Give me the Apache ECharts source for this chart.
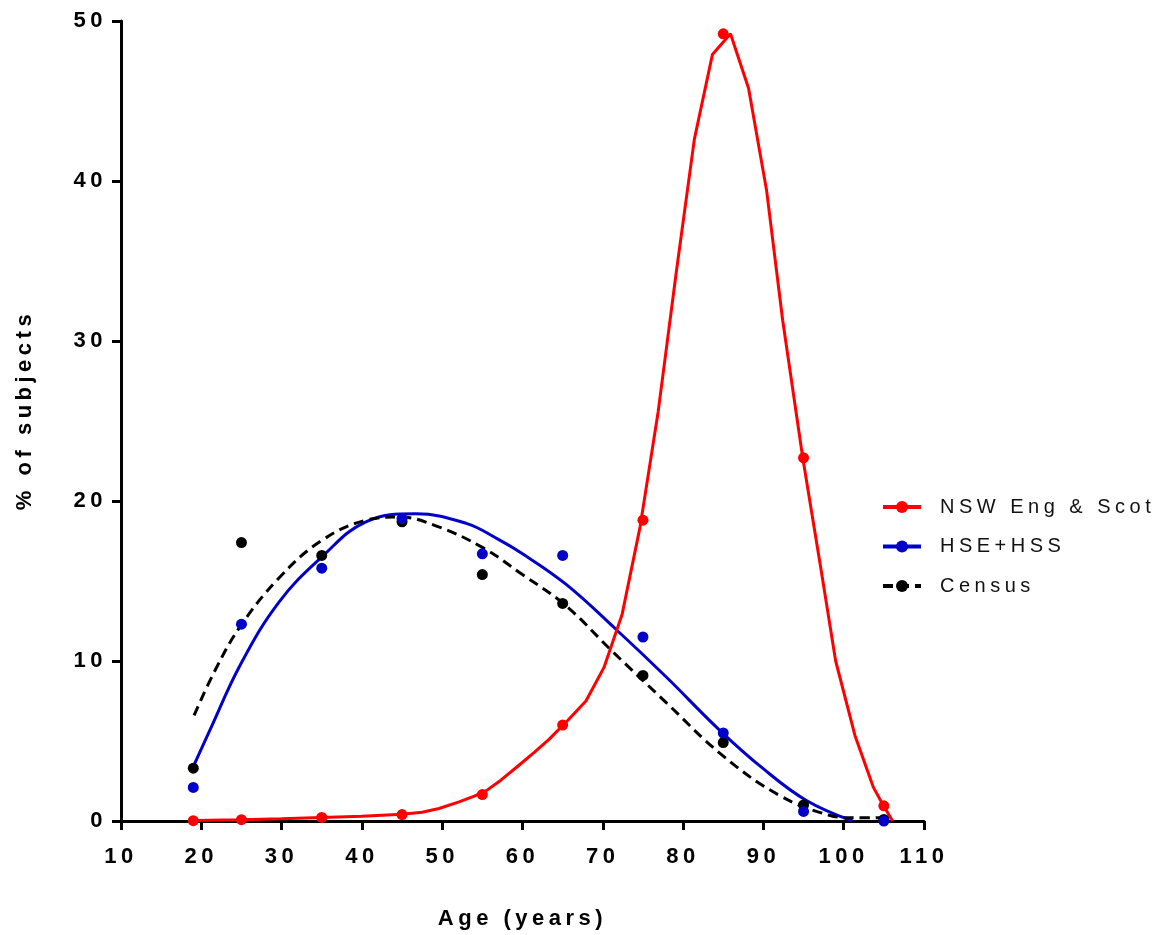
<!DOCTYPE html>
<html>
<head>
<meta charset="utf-8">
<script src="https://cdn.jsdelivr.net/npm/echarts@6/dist/echarts.min.js"></script>
<style>
  html, body { margin: 0; padding: 0; background: #fff; }
  #main { width: 1162px; height: 935px; }
</style>
</head>
<body>
<div id="main"></div>
<script>
// measured points
var ages = [19, 25, 35, 45, 55, 65, 75, 85, 95, 105];
var nswPts = [0.02, 0.08, 0.22, 0.4, 1.65, 6.0, 18.8, 49.2, 22.7, 0.95];
var hsePts = [2.1, 12.3, 15.8, 18.9, 16.7, 16.6, 11.5, 5.5, 0.6, 0.0];
var censusPts = [3.3, 17.4, 16.6, 18.7, 15.4, 13.6, 9.1, 4.9, 1.0, 0.1];

// fitted curves
var nswCurveX = [19, 25, 30, 35, 40, 45, 47.5, 49.6, 52.1, 54, 55.5, 57.3, 59.6, 61.5, 63.3, 65.65, 67.9, 70.15, 72.4, 74.65, 76.9, 79.15, 81.4, 83.65, 85.9, 88.15, 90.4, 92.4, 94.9, 97.15, 99.0, 101.4, 103.7, 104.9, 106.1];
var nswCurveY = [0.03, 0.08, 0.14, 0.22, 0.3, 0.42, 0.55, 0.78, 1.2, 1.55, 1.9, 2.55, 3.5, 4.3, 5.1, 6.3, 7.5, 9.6, 12.9, 18.4, 25.6, 34.3, 42.6, 47.9, 49.2, 45.8, 39.4, 31.3, 22.7, 15.8, 10.0, 5.35, 2.1, 1.0, 0.0];

var hseCurveX = [19, 21, 24.9, 29.7, 35, 40.5, 46.7, 53, 57, 60, 65.4, 71.6, 77.9, 84.5, 89.9, 95.3, 101.1];
var hseCurveY = [3.4, 5.6, 9.8, 13.7, 16.5, 18.7, 19.2, 18.6, 17.6, 16.7, 14.8, 12.0, 9.0, 5.7, 3.3, 1.3, 0.0];

var censusCurveX = [19.1, 21.8, 24.9, 29.7, 34.9, 40.5, 44.6, 49.2, 55, 60, 65.3, 71.2, 77.9, 84.9, 92, 98.2, 101.1, 105.3];
var censusCurveY = [6.6, 9.5, 12.2, 15.2, 17.5, 18.8, 19.0, 18.45, 17.1, 15.4, 13.5, 10.6, 7.4, 4.1, 1.6, 0.36, 0.2, 0.2];

var xTicks = [10, 20, 30, 40, 50, 60, 70, 80, 90, 100, 110];
var yTicks = [0, 10, 20, 30, 40, 50];

function pairs(xs, ys) {
    return xs.map(function (x, i) { return [x, ys[i]]; });
}

var FONT = '"Liberation Sans", Arial, sans-serif';
var RED = '#ff0000', BLUE = '#0000c8', BLACK = '#000000';

var chart = echarts.init(document.getElementById('main'), null, {renderer: 'canvas'});

var axisLine = {show: true, onZero: false, lineStyle: {color: BLACK, width: 3}};
var axisTick = {show: true, length: 9, lineStyle: {color: BLACK, width: 3}};

chart.setOption({
    animation: false,
    backgroundColor: '#ffffff',
    grid: {left: 121, right: 238, top: 21, bottom: 112},
    legend: {
        orient: 'vertical',
        left: 876,
        top: 492,
        itemWidth: 38,
        itemHeight: 15,
        itemGap: 19.5,
        lineStyle: {width: 4},
        data: ['NSW Eng & Scot', 'HSE+HSS', 'Census'],
        textStyle: {fontFamily: FONT, fontSize: 20, color: '#111', padding: [0, 0, 0, 14]}
    },
    xAxis: {
        type: 'value',
        min: 10, max: 110, interval: 10,
        name: 'Age (years)',
        nameLocation: 'middle',
        nameGap: 87,
        nameTextStyle: {fontFamily: FONT, fontSize: 22, fontWeight: 'bold', color: BLACK},
        axisLine: axisLine,
        axisTick: axisTick,
        splitLine: {show: false},
        axisLabel: {
            margin: 25, fontFamily: FONT, fontSize: 22, fontWeight: 'bold', color: BLACK,
            formatter: function (v) { return xTicks.indexOf(v) >= 0 ? String(v) : ''; }
        }
    },
    yAxis: {
        type: 'value',
        min: 0, max: 50, interval: 10,
        name: '% of subjects',
        nameLocation: 'middle',
        nameGap: 85,
        nameTextStyle: {fontFamily: FONT, fontSize: 22, fontWeight: 'bold', color: BLACK, padding: [0, 0, 0, 22]},
        axisLine: axisLine,
        axisTick: axisTick,
        splitLine: {show: false},
        axisLabel: {
            margin: 14, fontFamily: FONT, fontSize: 22, fontWeight: 'bold', color: BLACK,
            formatter: function (v) { return yTicks.indexOf(v) >= 0 ? String(v) : ''; }
        }
    },
    series: [
        {
            name: 'NSW Eng & Scot', type: 'line', data: pairs(nswCurveX, nswCurveY),
            showSymbol: false, symbol: 'circle', symbolSize: 11, smooth: false,
            lineStyle: {color: RED, width: 3}, itemStyle: {color: RED}, z: 3
        },
        {
            name: 'HSE+HSS', type: 'line', data: pairs(hseCurveX, hseCurveY),
            showSymbol: false, symbol: 'circle', symbolSize: 11, smooth: 0.4,
            lineStyle: {color: BLUE, width: 3}, itemStyle: {color: BLUE}, z: 2
        },
        {
            name: 'Census', type: 'line', data: pairs(censusCurveX, censusCurveY),
            showSymbol: false, symbol: 'circle', symbolSize: 11, smooth: 0.4,
            lineStyle: {color: BLACK, width: 3, type: [10, 6]}, itemStyle: {color: BLACK}, z: 2
        },
        {
            name: 'Census pts', type: 'scatter', data: pairs(ages, censusPts),
            symbol: 'circle', symbolSize: 11, itemStyle: {color: BLACK, opacity: 1}, z: 4
        },
        {
            name: 'HSE pts', type: 'scatter', data: pairs(ages, hsePts),
            symbol: 'circle', symbolSize: 11, itemStyle: {color: BLUE, opacity: 1}, z: 5
        },
        {
            name: 'NSW pts', type: 'scatter', data: pairs(ages, nswPts),
            symbol: 'circle', symbolSize: 11, itemStyle: {color: RED, opacity: 1}, z: 6
        }
    ]
});

// the original uses widely spaced lettering; canvas layers exist only after the first paint
document.querySelectorAll('#main canvas').forEach(function (c) {
    c.getContext('2d').letterSpacing = '4.5px';
});
chart.getZr().painter.refresh(true);
</script>
</body>
</html>
